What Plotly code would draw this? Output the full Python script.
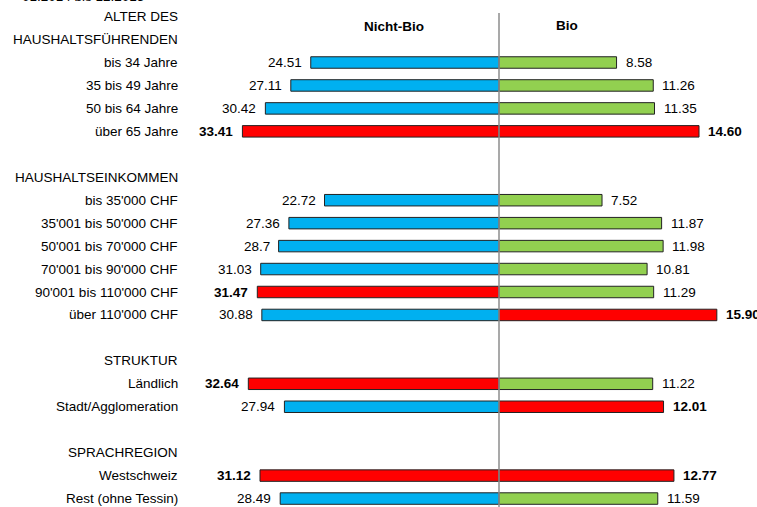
import plotly.graph_objects as go

# ---------------- data ----------------
period_text = "01.2014 bis 12.2015"
side_titles = ["Nicht-Bio", "Bio"]

alter_header = ["ALTER DES", "HAUSHALTSFÜHRENDEN"]
alter_labels = ["bis 34 Jahre", "35 bis 49 Jahre", "50 bis 64 Jahre", "über 65 Jahre"]
alter_nicht_bio = [24.51, 27.11, 30.42, 33.41]
alter_bio = [8.58, 11.26, 11.35, 14.60]

eink_header = ["HAUSHALTSEINKOMMEN"]
eink_labels = ["bis 35'000 CHF", "35'001 bis 50'000 CHF", "50'001 bis 70'000 CHF",
               "70'001 bis 90'000 CHF", "90'001 bis 110'000 CHF", "über 110'000 CHF"]
eink_nicht_bio = [22.72, 27.36, 28.7, 31.03, 31.47, 30.88]
eink_bio = [7.52, 11.87, 11.98, 10.81, 11.29, 15.90]

struktur_header = ["STRUKTUR"]
struktur_labels = ["Ländlich", "Stadt/Agglomeration"]
struktur_nicht_bio = [32.64, 27.94]
struktur_bio = [11.22, 12.01]

sprach_header = ["SPRACHREGION"]
sprach_labels = ["Westschweiz", "Rest (ohne Tessin)"]
sprach_nicht_bio = [31.12, 28.49]
sprach_bio = [12.77, 11.59]

groups = [
    (alter_header, alter_labels, alter_nicht_bio, alter_bio),
    (eink_header, eink_labels, eink_nicht_bio, eink_bio),
    (struktur_header, struktur_labels, struktur_nicht_bio, struktur_bio),
    (sprach_header, sprach_labels, sprach_nicht_bio, sprach_bio),
]

# ---------------- styling ----------------
W, H = 757, 507
CENTER = 499
FONT = "Liberation Sans, Arial, sans-serif"
FS = 13.5
BLUE, GREEN, RED = "#00B0F0", "#92D050", "#FF0000"
ROW_PX = 22.95
ROW0_PX = 16.6
LEFT_PX_PER_UNIT = 7.68
RIGHT_PX_PER_UNIT = 13.7

# build rows
row_texts = []   # (row index, text)
bar_rows, nb_vals, b_vals, nb_cols, b_cols = [], [], [], [], []
r = 0
for gi, (hdr, labels, nb, b) in enumerate(groups):
    if gi > 0:
        r += 1  # blank row
    for h in hdr:
        row_texts.append((r, h))
        r += 1
    mx_nb, mx_b = max(nb), max(b)
    for lab, v1, v2 in zip(labels, nb, b):
        row_texts.append((r, lab))
        bar_rows.append(r)
        nb_vals.append(v1)
        b_vals.append(v2)
        nb_cols.append(RED if v1 == mx_nb else BLUE)
        b_cols.append(RED if v2 == mx_b else GREEN)
        r += 1

fig = go.Figure()
fig.add_trace(go.Bar(
    x=nb_vals, y=bar_rows, orientation="h", xaxis="x", yaxis="y",
    marker=dict(color=nb_cols, line=dict(color="#222222", width=1)),
    width=0.5, hoverinfo="x+y", showlegend=False,
))
fig.add_trace(go.Bar(
    x=b_vals, y=bar_rows, orientation="h", xaxis="x2", yaxis="y",
    marker=dict(color=b_cols, line=dict(color="#222222", width=1)),
    width=0.5, hoverinfo="x+y", showlegend=False,
))

annotations = []
for rr, t in row_texts:
    annotations.append(dict(x=180 / W, xref="paper", y=rr, yref="y", text=t,
                            xanchor="right", yanchor="middle", showarrow=False,
                            font=dict(family=FONT, size=FS, color="black")))
for rr, v, c in zip(bar_rows, nb_vals, nb_cols):
    txt = str(v)
    if c == RED:
        txt = "<b>" + txt + "</b>"
    annotations.append(dict(x=v, xref="x", y=rr, yref="y", text=txt,
                            xanchor="right", yanchor="middle", xshift=-7, showarrow=False,
                            font=dict(family=FONT, size=FS, color="black")))
for rr, v, c in zip(bar_rows, b_vals, b_cols):
    txt = f"{v:.2f}"
    if c == RED:
        txt = "<b>" + txt + "</b>"
    annotations.append(dict(x=v, xref="x2", y=rr, yref="y", text=txt,
                            xanchor="left", yanchor="middle", xshift=7, showarrow=False,
                            font=dict(family=FONT, size=FS, color="black")))
# side titles
annotations.append(dict(x=394.5 / W, xref="paper", y=1 - 26 / H, yref="paper",
                        text="<b>" + side_titles[0] + "</b>", showarrow=False,
                        xanchor="center", yanchor="middle",
                        font=dict(family=FONT, size=FS, color="black")))
annotations.append(dict(x=567 / W, xref="paper", y=1 - 25 / H, yref="paper",
                        text="<b>" + side_titles[1] + "</b>", showarrow=False,
                        xanchor="center", yanchor="middle",
                        font=dict(family=FONT, size=FS, color="black")))
# partially clipped period text at top-left
annotations.append(dict(x=20 / W, xref="paper", y=1 + 3 / H, yref="paper",
                        text=period_text, showarrow=False,
                        xanchor="left", yanchor="middle",
                        font=dict(family=FONT, size=FS, color="black")))

r_top = -ROW0_PX / ROW_PX
r_bot = r_top + H / ROW_PX

fig.update_layout(
    width=W, height=H,
    margin=dict(l=0, r=0, t=0, b=0),
    paper_bgcolor="white", plot_bgcolor="white",
    barmode="overlay",
    xaxis=dict(domain=[0, CENTER / W], range=[CENTER / LEFT_PX_PER_UNIT, 0],
               visible=False, fixedrange=True),
    xaxis2=dict(domain=[CENTER / W, 1], range=[0, (W - CENTER) / RIGHT_PX_PER_UNIT],
                visible=False, fixedrange=True),
    yaxis=dict(range=[r_bot, r_top], visible=False, fixedrange=True),
    annotations=annotations,
    shapes=[dict(type="line", xref="paper", yref="paper",
                 x0=CENTER / W, x1=CENTER / W, y0=0, y1=1 - 13 / H,
                 line=dict(color="#8C8C8C", width=1.5))],
    showlegend=False,
)

fig.write_html(
    "out.html",
    config={"displayModeBar": False},
    post_script="document.body.style.margin='0';document.body.style.overflow='hidden';",
)
